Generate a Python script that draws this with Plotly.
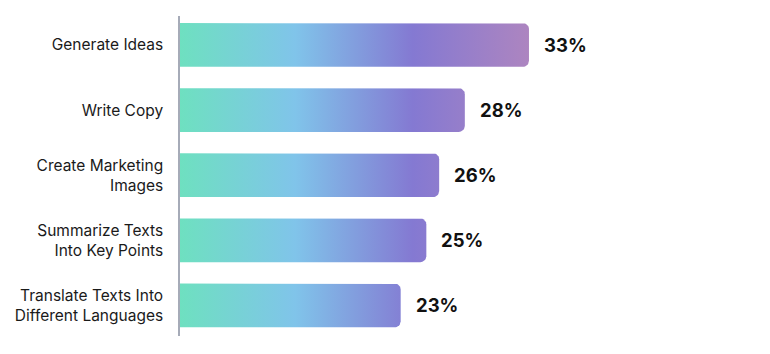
import numpy as np
import plotly.graph_objects as go

categories = ["Generate Ideas", "Write Copy", "Create Marketing<br>Images",
              "Summarize Texts<br>Into Key Points", "Translate Texts Into<br>Different Languages"]
values = [33, 28, 26, 25, 23]
labels = [f"{v}%" for v in values]

# axis / style settings
X_MIN = 5.8
PX_PER_UNIT = 12.83
PLOT_W = 580
X_MAX = X_MIN + PLOT_W / PX_PER_UNIT
Y_RANGE = [4.47, -0.445]
PLOT_H = 354 - 16 - 18.4
PX_PER_CAT = PLOT_H / (Y_RANGE[0] - Y_RANGE[1])
HALF = 0.336
RADIUS_PX = 6

colorscale = [[0, "#6ee0c0"], [0.33, "#80c4ea"], [0.667, "#8479d2"], [1, "#ad85c0"]]

fig = go.Figure()
rx = RADIUS_PX / PX_PER_UNIT
ry = RADIUS_PX / PX_PER_CAT
for i, v in enumerate(values):
    top, bot = i - HALF, i + HALF
    t1 = np.linspace(-np.pi / 2, 0, 10)
    t2 = np.linspace(0, np.pi / 2, 10)
    xs = [X_MIN - 1]
    ys = [top]
    xs += list(v - rx + rx * np.cos(t1))
    ys += list(top + ry + ry * np.sin(t1))
    xs += list(v - rx + rx * np.cos(t2))
    ys += list(bot - ry + ry * np.sin(t2))
    xs += [X_MIN - 1, X_MIN - 1]
    ys += [bot, top]
    fig.add_trace(go.Scatter(
        x=xs, y=ys, mode="lines", fill="toself",
        line=dict(width=0, color="rgba(0,0,0,0)"),
        fillgradient=dict(type="horizontal", colorscale=colorscale, start=X_MIN, stop=33),
        hoverinfo="skip", showlegend=False,
    ))
    fig.add_annotation(x=v, y=i, text=f"<b>{labels[i]}</b>", showarrow=False,
                       xanchor="left", yanchor="middle", xshift=13,
                       font=dict(family="Inter", size=18.5, color="#111111"))

fig.update_layout(
    width=770, height=354,
    margin=dict(l=180, r=770 - 180 - PLOT_W, t=16, b=18.4),
    paper_bgcolor="white", plot_bgcolor="white",
    xaxis=dict(range=[X_MIN, X_MAX], visible=False, showgrid=False, zeroline=False),
    yaxis=dict(range=Y_RANGE, tickvals=list(range(len(categories))), ticktext=categories,
               showgrid=False, zeroline=False, showline=True, linecolor="#a6abb8",
               linewidth=1.5, ticks="", ticklabelstandoff=12,
               tickfont=dict(family="Inter", size=15.5, color="#1a1a1a")),
    font=dict(family="Inter"),
)

fig.write_html("out.html")
